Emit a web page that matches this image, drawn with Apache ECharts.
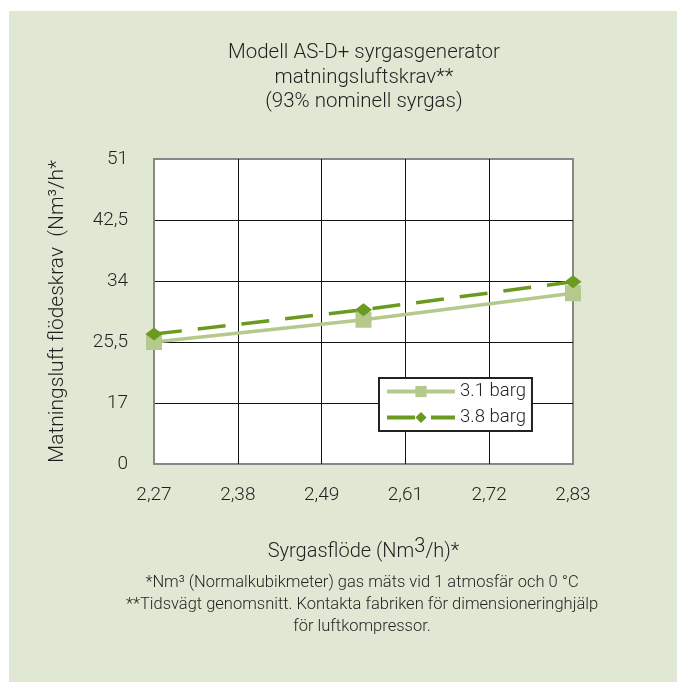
<!DOCTYPE html>
<html>
<head>
<meta charset="utf-8">
<script src="https://cdn.jsdelivr.net/npm/echarts@6/dist/echarts.min.js"></script>
<style>
  html, body { margin: 0; padding: 0; background: #ffffff; }
  #chart { position: absolute; left: 9px; top: 11px; width: 668px; height: 671px; }
</style>
</head>
<body>
<div id="chart"></div>
<script>
// flow (Nm3/h) and feed air demand
var flow = [2.27, 2.55, 2.83];
var air31 = [25.5, 28.6, 32.3];
var air38 = [26.6, 30.0, 33.9];
var xTickLabels = ['2,27', '2,38', '2,49', '2,61', '2,72', '2,83'];
var yTickLabels = ['0', '17', '25,5', '34', '42,5', '51'];
var seriesNames = ['3.1 barg', '3.8 barg'];

var font = 'Roboto, "DejaVu Sans", sans-serif';
var textColor = '#231f20';
var xMin = 2.27, xMax = 2.83, xStep = 0.112;
var yMin = 8.5, yMax = 51, yStep = 8.5;

var chart = echarts.init(document.getElementById('chart'));

var option = {
    backgroundColor: '#e0e7d2',
    animation: false,
    textStyle: { fontFamily: font, color: textColor, fontWeight: 300 },
    graphic: [
        {
            type: 'text',
            style: {
                text: 'Modell AS-D+ syrgasgenerator\nmatningsluftskrav**\n(93% nominell syrgas)',
                x: 355, y: 30,
                textAlign: 'center',
                textVerticalAlign: 'top',
                font: '300 20.5px ' + font,
                lineHeight: 24.5,
                fill: textColor
            }
        },
        {
            type: 'text',
            style: {
                text: '*Nm³ (Normalkubikmeter) gas mäts vid 1 atmosfär och 0 °C\n**Tidsvägt genomsnitt. Kontakta fabriken för dimensioneringhjälp\nför luftkompressor.',
                x: 353, y: 561,
                textAlign: 'center',
                textVerticalAlign: 'top',
                font: '300 16.5px ' + font,
                lineHeight: 22,
                fill: textColor
            }
        }
    ],
    legend: {
        data: seriesNames,
        orient: 'vertical',
        left: 370,
        top: 367,
        backgroundColor: '#ffffff',
        borderColor: '#222222',
        borderWidth: 2,
        borderRadius: 0,
        padding: [4, 6, 4, 6],
        itemWidth: 68,
        itemHeight: 14,
        itemGap: 7,
        lineStyle: { width: 4 },
        textStyle: { fontSize: 18.5, color: textColor, fontFamily: font, fontWeight: 300 }
    },
    grid: {
        left: 145,
        top: 148,
        width: 419,
        height: 305,
        show: true,
        backgroundColor: '#ffffff',
        borderColor: '#888888',
        borderWidth: 2
    },
    xAxis: {
        type: 'value',
        min: xMin,
        max: xMax,
        interval: xStep,
        name: 'Syrgasflöde (Nm{sup|3}/h)*',
        nameLocation: 'middle',
        nameGap: 73,
        nameTextStyle: {
            fontSize: 20,
            fontWeight: 300,
            color: textColor,
            rich: {
                sup: { fontSize: 20, fontWeight: 300, padding: [0, 0, 9, 0], color: textColor }
            }
        },
        axisLine: { show: false },
        axisTick: { show: false },
        axisLabel: {
            fontSize: 19,
            fontWeight: 300,
            margin: 22,
            color: textColor,
            formatter: function (v) {
                return xTickLabels[Math.round((v - xMin) / xStep)];
            }
        },
        splitLine: {
            show: true,
            lineStyle: { color: ['#888888', '#111111', '#111111', '#111111', '#111111', '#888888'], width: 1 }
        }
    },
    yAxis: {
        type: 'value',
        min: yMin,
        max: yMax,
        interval: yStep,
        name: 'Matningsluft flödeskrav  (Nm³/h*',
        nameLocation: 'middle',
        nameRotate: 90,
        nameGap: 86,
        nameTextStyle: { fontSize: 21, fontWeight: 300, color: textColor },
        axisLine: { show: false },
        axisTick: { show: false },
        axisLabel: {
            fontSize: 19,
            fontWeight: 300,
            margin: 26,
            color: textColor,
            formatter: function (v) {
                return yTickLabels[Math.round((v - yMin) / yStep)];
            }
        },
        splitLine: {
            show: true,
            lineStyle: { color: ['#888888', '#111111', '#111111', '#111111', '#111111', '#888888'], width: 1 }
        }
    },
    series: [
        {
            name: seriesNames[0],
            type: 'line',
            data: flow.map(function (f, i) { return [f, air31[i]]; }),
            symbol: 'rect',
            symbolSize: 16,
            lineStyle: { color: '#b5c98d', width: 3.5 },
            itemStyle: { color: '#b5c98d' },
            z: 3
        },
        {
            name: seriesNames[1],
            type: 'line',
            data: flow.map(function (f, i) { return [f, air38[i]]; }),
            symbol: 'diamond',
            symbolSize: [17, 13],
            lineStyle: { color: '#6a9a1f', width: 3.5, type: [28, 16] },
            itemStyle: { color: '#6a9a1f' },
            z: 4
        }
    ]
};

chart.setOption(option);
</script>
</body>
</html>
